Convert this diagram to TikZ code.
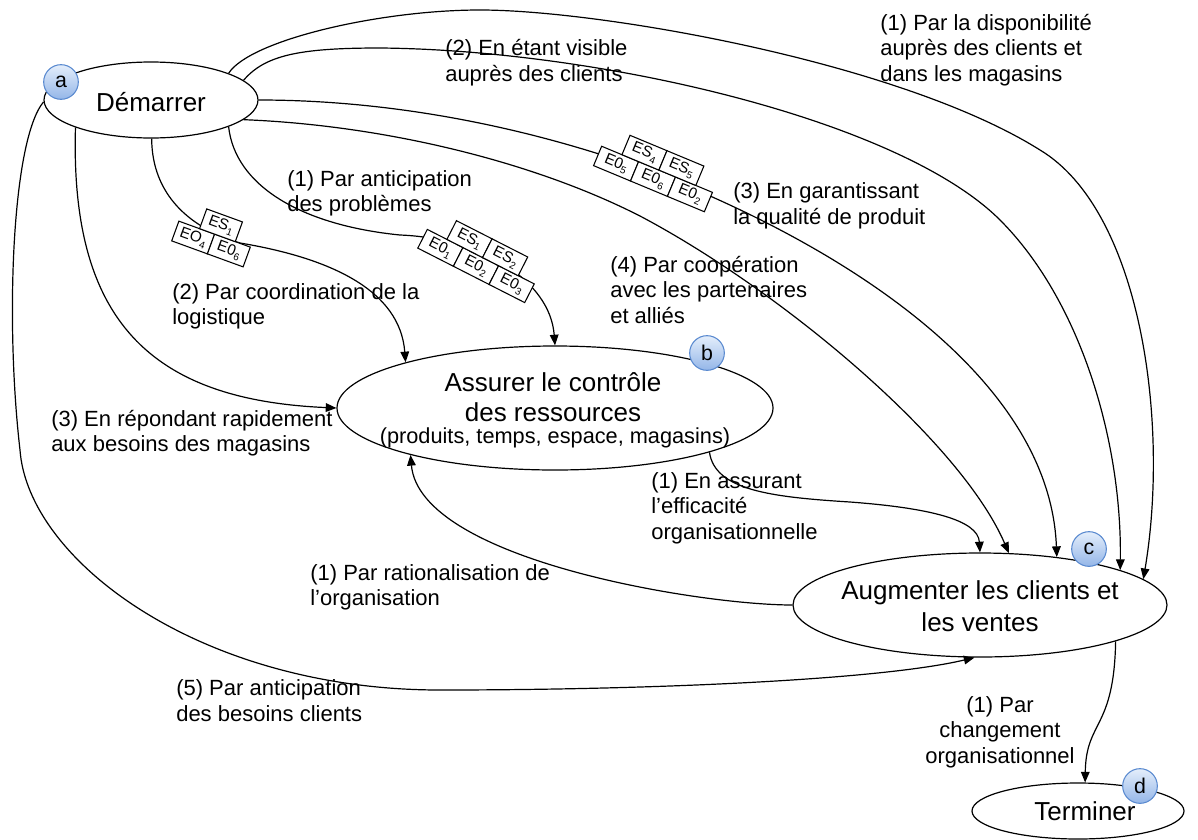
\documentclass[tikz,border=0pt]{standalone}
\usepackage{fontspec}
\setmainfont{Liberation Sans}
\usetikzlibrary{arrows.meta,shapes.geometric}
\newcommand{\mysub}[1]{\raisebox{-0.45ex}{\fontsize{7.5}{7.5}\selectfont #1}}
\definecolor{badgeline}{HTML}{5A8AD0}
\definecolor{badgetop}{HTML}{E4EEFB}
\definecolor{badgebot}{HTML}{94B6E8}
\begin{document}
\begin{tikzpicture}[x=0.75pt,y=-0.75pt,
  stnode/.style={ellipse,draw,line width=0.9pt,inner sep=0pt},
  ttl/.style={font=\fontsize{19.5}{23}\selectfont,align=center,inner sep=0pt},
  lbl/.style={font=\fontsize{16.5}{19.2}\selectfont,align=left,anchor=west,inner sep=0pt},
  badge/.style={circle,draw=badgeline,line width=0.8pt,top color=badgetop,bottom color=badgebot,minimum size=26pt,inner sep=0pt,font=\fontsize{16}{16}\selectfont},
  conn/.style={line width=0.9pt,-{Triangle[length=8pt,width=6.5pt]}},
  ebox/.style={draw,fill=white,line width=0.8pt,minimum width=30pt,minimum height=15.75pt,inner sep=0pt,transform shape,font=\fontsize{11.5}{11.5}\selectfont},
]
\useasboundingbox (0,0) rectangle (1198,839);

% ellipses
\node[stnode,minimum width=160.5pt,minimum height=57pt] (a) at (151,100) {};
\node[stnode,minimum width=327pt,minimum height=93pt] (b) at (555,408) {};
\node[stnode,minimum width=280.5pt,minimum height=78pt] (c) at (980,605) {};
\node[stnode,minimum width=159pt,minimum height=42pt] (d) at (1078,811) {};

% titles
\node[ttl] (at) at (151,102) {Démarrer};
\node[ttl,font=\fontsize{19.5}{22.5}\selectfont] (bt) at (553,397) {Assurer le contrôle\\des ressources};
\node[font=\fontsize{16.3}{16.3}\selectfont,inner sep=0pt] (bs) at (555,438) {(produits, temps, espace, magasins)};
\node[ttl,font=\fontsize{19.5}{24}\selectfont] (ct) at (980,606) {Augmenter les clients et\\les ventes};
\node[ttl] (dt) at (1085,811) {Terminer};

% connectors
\draw[conn] (a.19.5) .. controls (250,40) and (380,10) .. (480,10) .. controls (600,10) and (900,62) .. (1040,150) .. controls (1140,210) and (1170,420) .. (c.9);
\draw[conn] (a.12.3) .. controls (265,55) and (300,48) .. (380,48) .. controls (600,50) and (900,120) .. (1000,220) .. controls (1080,300) and (1122,440) .. (c.14);
\draw[conn] (a.0) .. controls (400,100) and (540,130) .. (660,175) .. controls (850,250) and (1050,380) .. (c.32.4);
\draw[conn] (a.-12) .. controls (380,125) and (530,160) .. (640,216) .. controls (780,290) and (960,440) .. (c.61);
\draw[conn] (a.-19.6) .. controls (235,185) and (300,225) .. (400,235) .. controls (480,238) and (550,280) .. (b.90);
\draw[conn] (a.-89) .. controls (152,195) and (190,228) .. (240,243) .. controls (330,258) and (400,290) .. (b.163);
\draw[conn] (a.-160) .. controls (70,320) and (150,400) .. (b.180);
\draw[conn] (a.181) .. controls (12,140) and (5,320) .. (20,450) .. controls (28,560) and (200,690) .. (440,690) .. controls (650,690) and (880,680) .. (c.-96);
\draw[conn] (c.180) .. controls (700,605) and (420,560) .. (b.-162);
\draw[conn] (b.-16.4) .. controls (715,490) and (770,497) .. (850,502) .. controls (930,508) and (978,520) .. (c.90);
\draw[conn] (c.-15.2) .. controls (1114,730) and (1086,720) .. (d.76);

% boxes
\begin{scope}[shift={(211,244)},rotate=-20]
  \node[ebox,minimum width=28.5pt] (g1a) at (-19,0) {EO\mysub{4}};
  \node[ebox,minimum width=28.5pt] (g1b) at (19,0) {E0\mysub{6}};
  \node[ebox,minimum width=28.5pt] (g1c) at (3,-21) {ES\mysub{1}};
\end{scope}
\begin{scope}[shift={(476,266)},rotate=-27]
  \node[ebox] (g2a) at (-40,0) {E0\mysub{1}};
  \node[ebox] (g2b) at (0,0) {E0\mysub{2}};
  \node[ebox] (g2c) at (40,0) {E0\mysub{3}};
  \node[ebox] (g2d) at (-18,-21) {ES\mysub{1}};
  \node[ebox] (g2e) at (22,-21) {ES\mysub{2}};
\end{scope}
\begin{scope}[shift={(653,179)},rotate=-22.6]
  \node[ebox] (g3a) at (-40,0) {E0\mysub{5}};
  \node[ebox] (g3b) at (0,0) {E0\mysub{6}};
  \node[ebox] (g3c) at (40,0) {E0\mysub{2}};
  \node[ebox] (g3d) at (-18,-21) {ES\mysub{4}};
  \node[ebox] (g3e) at (22,-21) {ES\mysub{5}};
\end{scope}

% labels
\node[lbl] (l1) at (880,50) {(1) Par la disponibilité\\auprès des clients et\\dans les magasins};
\node[lbl] (l2) at (445,62.5) {(2) En étant visible\\auprès des clients};
\node[lbl] (l3) at (733,206) {(3) En garantissant\\la qualité de produit};
\node[lbl] (l4) at (610,290) {(4) Par coopération\\avec les partenaires\\et alliés};
\node[lbl] (l5) at (287,193.5) {(1) Par anticipation\\des problèmes};
\node[lbl] (l6) at (172,306.5) {(2) Par coordination de la\\logistique};
\node[lbl] (l7) at (51,433) {(3) En répondant rapidement\\aux besoins des magasins};
\node[lbl] (l8) at (651,508) {(1) En assurant\\l’efficacité\\organisationnelle};
\node[lbl] (l9) at (310,587.5) {(1) Par rationalisation de\\l’organisation};
\node[lbl] (l10) at (176,700.5) {(5) Par anticipation\\des besoins clients};
\node[lbl,align=center,anchor=center] (l11) at (1000,732) {(1) Par\\changement\\organisationnel};

% badges
\node[badge] (ba) at (61,82) {a};
\node[badge] (bb) at (707,353) {b};
\node[badge] (bc) at (1089,549) {c};
\node[badge] (bd) at (1140,786) {d};
\end{tikzpicture}
\end{document}
